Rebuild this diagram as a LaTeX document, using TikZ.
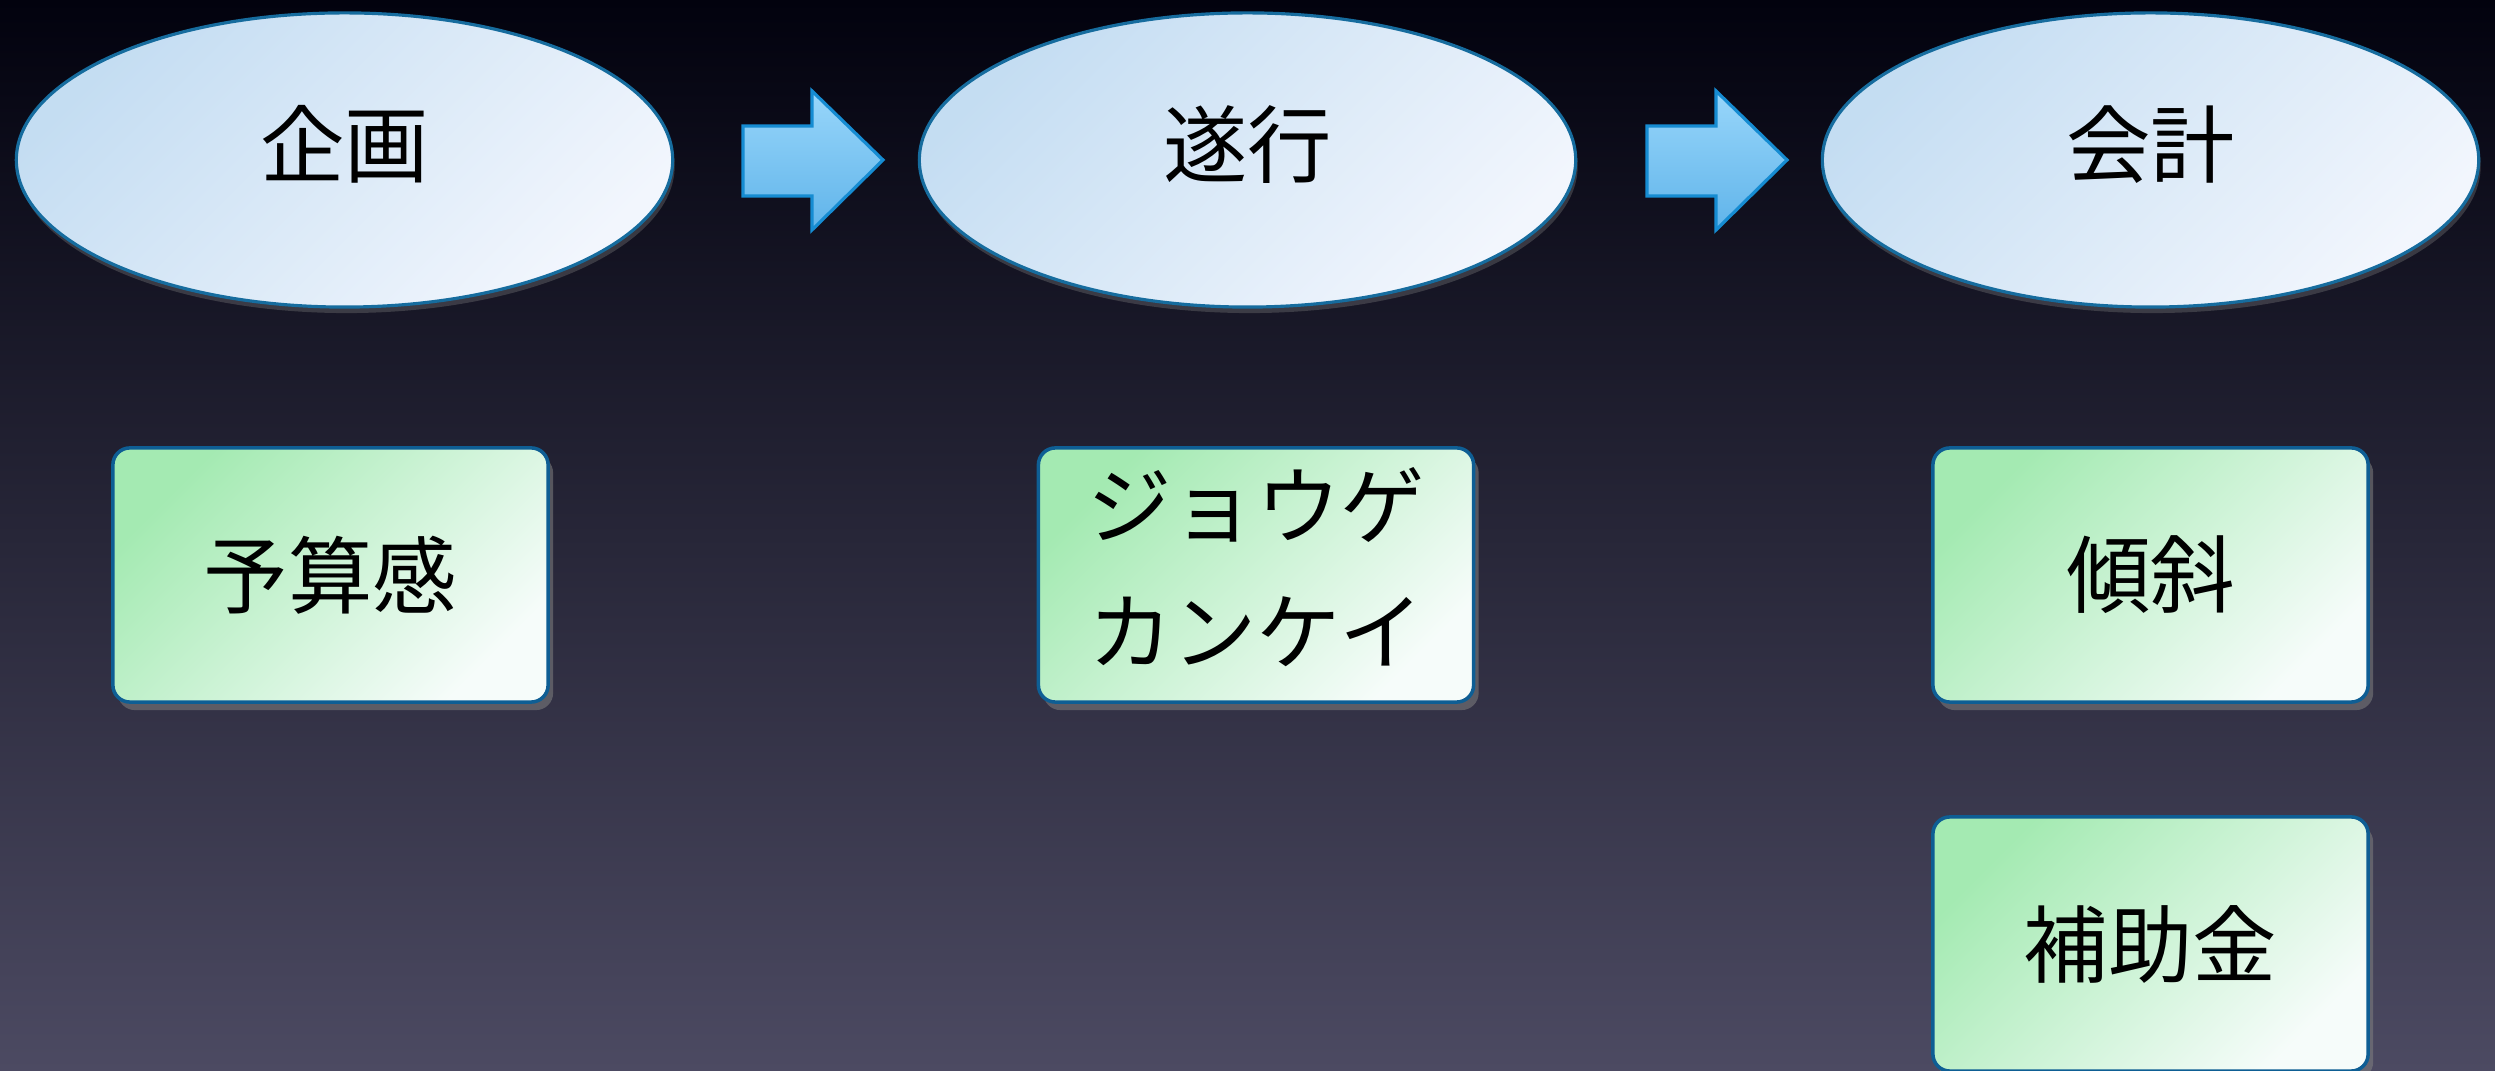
\documentclass[tikz,border=0pt]{standalone}
\usepackage{fontspec}
\newfontfamily\jp{Noto Sans CJK JP}
\usetikzlibrary{shapes.geometric,shadows}
\definecolor{bgtop}{RGB}{2,2,14}
\definecolor{bgmid}{RGB}{30,29,50}
\definecolor{bgbot}{RGB}{76,74,98}
\definecolor{ellA}{RGB}{196,221,242}
\definecolor{ellB}{RGB}{242,246,253}
\definecolor{ellD}{RGB}{22,108,158}
\definecolor{arrA}{RGB}{152,214,250}
\definecolor{arrB}{RGB}{96,180,234}
\definecolor{arrD}{RGB}{22,140,210}
\definecolor{boxA}{RGB}{164,234,178}
\definecolor{boxB}{RGB}{246,252,250}
\definecolor{boxD}{RGB}{14,94,148}
\tikzset{
  phase/.style={ellipse, draw=ellD, line width=0.9pt, minimum width=6.56cm, minimum height=2.94cm,
    inner sep=0pt, top color=ellA, bottom color=ellB, shading angle=45,
    drop shadow={opacity=0.35, shadow xshift=0.02cm, shadow yshift=-0.06cm}},
  item/.style={rectangle, rounded corners=0.17cm, draw=boxD, line width=1pt, minimum width=4.35cm,
    minimum height=2.54cm, inner sep=0pt, align=center, top color=boxA, bottom color=boxB, shading angle=45,
    drop shadow={opacity=0.55, shadow xshift=0.05cm, shadow yshift=-0.08cm}},
  blockarrow/.style={draw=arrD, line width=0.9pt, top color=arrA, bottom color=arrB, line join=miter},
}
\begin{document}
\begin{tikzpicture}[x=0.01cm,y=-0.01cm, font=\jp\fontsize{24}{36}\selectfont]
\shade[top color=bgtop, middle color=bgmid, bottom color=bgbot] (0,0) rectangle (2495,1071);
\useasboundingbox (0,0) rectangle (2495,1071);

\node[phase] (kikaku) at (344.5,160) {\raisebox{0.38cm}{企画}};
\node[phase] (suikou) at (1247.5,160) {\raisebox{0.38cm}{遂行}};
\node[phase] (kaikei) at (2150.5,160) {\raisebox{0.38cm}{会計}};

\shade[blockarrow] (743,126) -- (812,126) -- (812,91) -- (883,160) -- (812,230) -- (812,196) -- (743,196) -- cycle;
\shade[blockarrow] (1647,126) -- (1716,126) -- (1716,91) -- (1787,160) -- (1716,230) -- (1716,196) -- (1647,196) -- cycle;

\node[item] (yosan) at (330.5,575) {予算感};
\node[item] (jouge) at (1256,575) {\raisebox{0.05cm}{\begin{tabular}{@{}c@{}}ジョウゲ\\カンケイ\end{tabular}}};
\node[item] (keisha) at (2150.5,575) {傾斜};
\node[item] (hojo) at (2150.5,944) {\raisebox{0.06cm}{補助金}};
\end{tikzpicture}
\end{document}
